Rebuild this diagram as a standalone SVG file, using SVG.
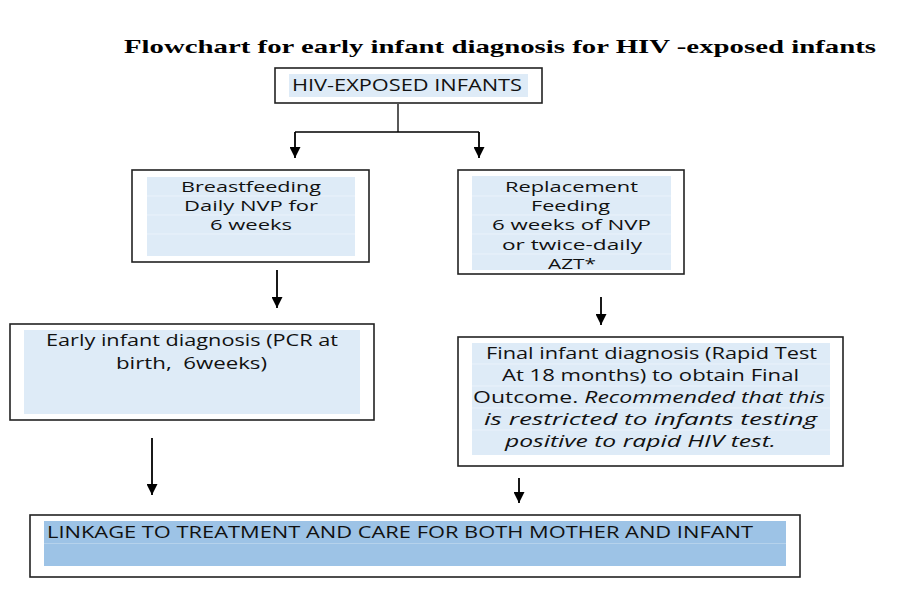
<svg xmlns="http://www.w3.org/2000/svg" width="900" height="600" viewBox="0 0 900 600">
<defs>
<marker id="ah" viewBox="0 0 10 10" refX="10" refY="5" markerWidth="11" markerHeight="11" markerUnits="userSpaceOnUse" orient="auto">
<path d="M0,0 L10,5 L0,10 Z" fill="#000"/>
</marker>
<style>
.box{fill:#fff;stroke:#222;stroke-width:1.6}
.hl{fill:#deebf7}
.hl2{fill:#9dc3e6}
.sep{stroke:#eaf2fb;stroke-width:1}
.t{font-family:"Open Sans","Liberation Sans",sans-serif;font-size:16px;fill:#111}
.s{font-size:15px}
.i{font-style:italic}
.title{font-family:"Liberation Serif","DejaVu Serif",serif;font-weight:bold;font-size:19.5px;fill:#000}
.ln{stroke:#000;stroke-width:1.3;fill:none}
.ar{stroke:#000;stroke-width:1.8;fill:none}
</style>
</defs>
<rect width="900" height="600" fill="#fff"/>
<text class="title" x="124" y="53" textLength="752" lengthAdjust="spacingAndGlyphs">Flowchart for early infant diagnosis for HIV -exposed infants</text>

<g id="connectors">
<path class="ln" d="M398,104 V132 M295,132 H479"/>
<path class="ar" d="M295,132 V158" marker-end="url(#ah)"/>
<path class="ar" d="M479,132 V158" marker-end="url(#ah)"/>
<path class="ar" d="M277,270 V308" marker-end="url(#ah)"/>
<path class="ar" d="M601,297 V325" marker-end="url(#ah)"/>
<path class="ar" d="M152,438 V495" marker-end="url(#ah)"/>
<path class="ar" d="M519,478 V503" marker-end="url(#ah)"/>
</g>

<g id="hiv-exposed">
<rect class="box" x="275" y="68" width="267" height="35"/>
<rect class="hl" x="289" y="74" width="239" height="23"/>
<text class="t" x="292" y="91" textLength="230" lengthAdjust="spacingAndGlyphs">HIV-EXPOSED INFANTS</text>
</g>

<g id="breastfeeding">
<rect class="box" x="132" y="170" width="237" height="92"/>
<rect class="hl" x="147" y="177" width="208" height="79"/>
<path class="sep" d="M147,196 H355 M147,215 H355 M147,234 H355"/>
<text class="t s" x="181" y="192" textLength="140" lengthAdjust="spacingAndGlyphs">Breastfeeding</text>
<text class="t s" x="184" y="211" textLength="134" lengthAdjust="spacingAndGlyphs">Daily NVP for</text>
<text class="t s" x="210" y="230" textLength="82" lengthAdjust="spacingAndGlyphs">6 weeks</text>
</g>

<g id="replacement">
<rect class="box" x="458" y="170" width="226" height="104"/>
<rect class="hl" x="472" y="176" width="199" height="94"/>
<path class="sep" d="M472,196 H671 M472,215 H671 M472,234 H671 M472,254 H671"/>
<text class="t s" x="505" y="192" textLength="133" lengthAdjust="spacingAndGlyphs">Replacement</text>
<text class="t s" x="531" y="211" textLength="79" lengthAdjust="spacingAndGlyphs">Feeding</text>
<text class="t s" x="492" y="230" textLength="159" lengthAdjust="spacingAndGlyphs">6 weeks of NVP</text>
<text class="t s" x="502" y="250" textLength="140" lengthAdjust="spacingAndGlyphs">or twice-daily</text>
<text class="t s" x="548" y="269" textLength="48" lengthAdjust="spacingAndGlyphs">AZT*</text>
</g>

<g id="early-diagnosis">
<rect class="box" x="10" y="324" width="364" height="96"/>
<rect class="hl" x="24" y="330" width="336" height="84"/>
<text class="t" x="46" y="346" textLength="292" lengthAdjust="spacingAndGlyphs">Early infant diagnosis (PCR at</text>
<text class="t" x="116" y="369" textLength="151" lengthAdjust="spacingAndGlyphs" xml:space="preserve">birth,  6weeks)</text>
</g>

<g id="final-diagnosis">
<rect class="box" x="458" y="337" width="385" height="129"/>
<rect class="hl" x="472" y="343" width="358" height="112"/>
<path class="sep" d="M472,364 H830 M472,386 H830 M472,408 H830 M472,430 H830"/>
<text class="t" x="486" y="359" textLength="331" lengthAdjust="spacingAndGlyphs">Final infant diagnosis (Rapid Test</text>
<text class="t" x="502" y="381" textLength="297" lengthAdjust="spacingAndGlyphs">At 18 months) to obtain Final</text>
<text class="t" x="473" y="403" textLength="352" lengthAdjust="spacingAndGlyphs">Outcome. <tspan class="i">Recommended that this</tspan></text>
<text class="t i" x="484" y="425" textLength="333" lengthAdjust="spacingAndGlyphs">is restricted to infants testing</text>
<text class="t i" x="505" y="447" textLength="271" lengthAdjust="spacingAndGlyphs">positive to rapid HIV test.</text>
</g>

<g id="linkage">
<rect class="box" x="30" y="515" width="770" height="62"/>
<rect class="hl2" x="44" y="521" width="742" height="45"/>
<path d="M44,543.5 H786" stroke="#b5d2ec" stroke-width="1"/>
<text class="t" x="47" y="538" textLength="706" lengthAdjust="spacingAndGlyphs">LINKAGE TO TREATMENT AND CARE FOR BOTH MOTHER AND INFANT</text>
</g>
</svg>
